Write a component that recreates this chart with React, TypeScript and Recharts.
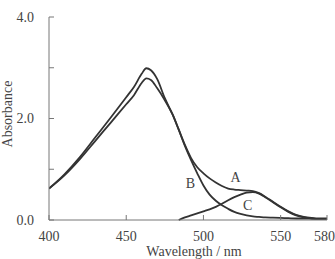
import { Line, LineChart, ReferenceDot, XAxis, YAxis } from "recharts";

// Absorption spectra A, B, C (wavelength in nm).
const wavelengths = [
  400, 410, 420, 430, 440, 450, 455, 460, 463, 466, 470, 475, 480, 484, 488,
  492, 496, 500, 504, 508, 512, 516, 520, 524, 528, 532, 536, 540, 545, 550,
  555, 560, 565, 570, 575, 580,
];
const seriesA = [
  0.62, 0.9, 1.24, 1.63, 2.02, 2.42, 2.62, 2.88, 2.99, 2.95, 2.78, 2.4, 2.08,
  1.78, 1.48, 1.22, 1.04, 0.92, 0.82, 0.74, 0.67, 0.62, 0.6, 0.59, 0.58, 0.57,
  0.53, 0.46, 0.36, 0.26, 0.17, 0.1, 0.06, 0.04, 0.03, 0.03,
];
const seriesB = [
  0.62, 0.88, 1.2, 1.56, 1.92, 2.28, 2.46, 2.7, 2.79, 2.76, 2.6, 2.36, 2.08,
  1.78, 1.46, 1.18, 0.92, 0.68, 0.5, 0.38, 0.29, 0.22, 0.16, 0.12, 0.09, 0.07,
  0.06, 0.05, 0.045, 0.04, 0.035, 0.03, 0.03, 0.025, 0.02, 0.02,
];
const seriesC = [
  null, null, null, null, null, null, null, null, null, null, null, null, null,
  0.0, 0.05, 0.09, 0.13, 0.17, 0.21, 0.26, 0.32, 0.39, 0.45, 0.5, 0.54, 0.55,
  0.52, 0.45, 0.35, 0.25, 0.16, 0.09, 0.05, 0.03, 0.02, 0.02,
];
const xTicks = [400, 450, 500, 550, 580];
const yTicks = [0, 1, 2, 3, 4];
// where the curve letters sit, in data units
const curveLabels = [
  { name: "A", x: 520.8, y: 0.85 },
  { name: "B", x: 491.6, y: 0.73 },
  { name: "C", x: 528.6, y: 0.3 },
];

const data = wavelengths.map((wl, i) => ({
  wl,
  A: seriesA[i],
  B: seriesB[i],
  C: seriesC[i],
}));

const FONT = '"Liberation Serif", "Times New Roman", serif';
const INK = "#333";
const TEXT = "#444";
const AXIS = "#777";
const tickStyle = { fontSize: 14, fill: TEXT, fontFamily: FONT };

function YTitle() {
  return (
    <text
      transform="translate(7,114) rotate(-90)"
      textAnchor="middle"
      dominantBaseline="central"
      style={{ fontSize: 14, fill: TEXT, fontFamily: FONT }}
    >
      Absorbance
    </text>
  );
}

export default function App() {
  return (
    <div style={{ position: "absolute", left: 0, top: 0 }}>
      <LineChart
        width={335}
        height={259}
        data={data}
        margin={{ top: 17, right: 8, bottom: 0, left: 0 }}
      >
        <XAxis
          xAxisId="b"
          dataKey="wl"
          type="number"
          domain={[400, 580]}
          ticks={xTicks}
          allowDataOverflow
          height={39}
          tickSize={-5}
          tickMargin={16}
          tick={tickStyle}
          stroke={AXIS}
          label={{
            value: "Wavelength / nm",
            position: "insideBottom",
            offset: 3,
            dx: 6,
            style: { fontSize: 14, fill: TEXT, fontFamily: FONT },
          }}
        />
        <XAxis
          xAxisId="t"
          dataKey="wl"
          type="number"
          orientation="top"
          domain={[400, 580]}
          ticks={xTicks}
          height={0}
          tickSize={-5}
          tickFormatter={() => ""}
          stroke={AXIS}
        />
        <YAxis
          yAxisId="l"
          type="number"
          domain={[0, 4]}
          ticks={yTicks}
          width={49}
          tickSize={-5}
          tickMargin={20}
          tick={tickStyle}
          tickFormatter={(v: number) => (v % 2 === 0 ? v.toFixed(1) : "")}
          stroke={AXIS}
          label={<YTitle />}
        />
        <YAxis
          yAxisId="r"
          orientation="right"
          type="number"
          domain={[0, 4]}
          ticks={yTicks}
          width={0}
          tickSize={-5}
          tickFormatter={() => ""}
          stroke={AXIS}
        />
        {["A", "B", "C"].map((k) => (
          <Line
            key={k}
            xAxisId="b"
            yAxisId="l"
            dataKey={k}
            type="monotone"
            stroke={INK}
            strokeWidth={1.8}
            dot={false}
            connectNulls={false}
            isAnimationActive={false}
          />
        ))}
        {curveLabels.map((c) => (
          <ReferenceDot
            key={c.name}
            xAxisId="b"
            yAxisId="l"
            x={c.x}
            y={c.y}
            r={0}
            stroke="none"
            fill="none"
            label={{
              value: c.name,
              position: "center",
              style: { fontSize: 14, fill: TEXT, fontFamily: FONT },
            }}
          />
        ))}
      </LineChart>
    </div>
  );
}
